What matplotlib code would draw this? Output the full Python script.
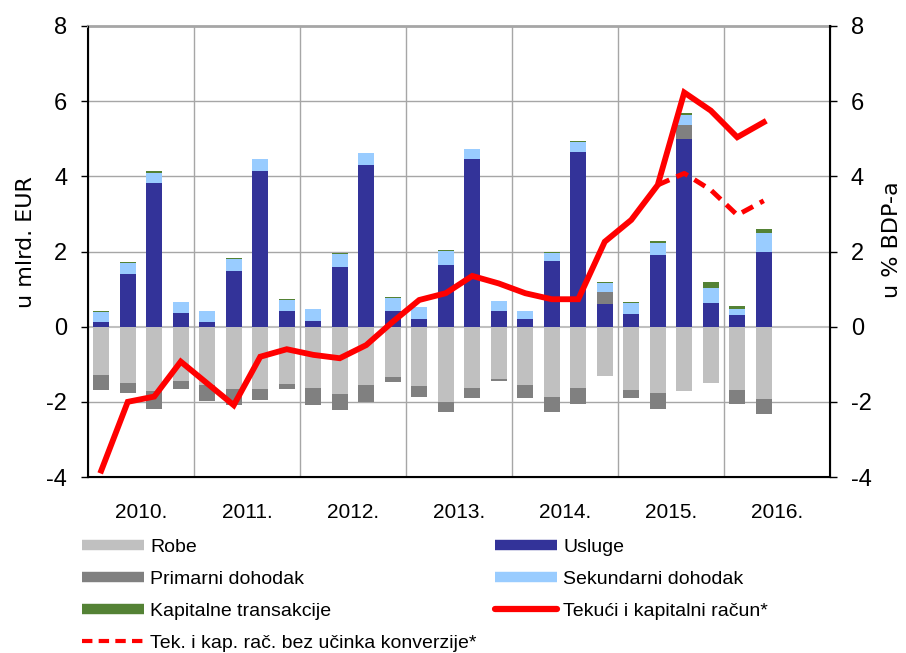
import numpy as np
import matplotlib
matplotlib.use('Agg')
import matplotlib.pyplot as plt
from matplotlib.lines import Line2D

plt.rcParams['font.family'] = ['Liberation Sans', 'DejaVu Sans']
plt.rcParams['axes.unicode_minus'] = False

# Kvartali 2010. Q1 - 2016. Q2
years = ['2010.', '2011.', '2012.', '2013.', '2014.', '2015.', '2016.']

robe = [-1.29, -1.49, -1.70, -1.44, -1.55, -1.65, -1.65, -1.52,
        -1.63, -1.78, -1.55, -1.35, -1.58, -2.01, -1.62, -1.38,
        -1.55, -1.88, -1.64, -1.30, -1.69, -1.77, -1.71, -1.51,
        -1.69, -1.93]
usluge = [0.12, 1.40, 3.82, 0.36, 0.12, 1.49, 4.13, 0.42,
          0.15, 1.59, 4.31, 0.42, 0.20, 1.64, 4.46, 0.43,
          0.20, 1.76, 4.65, 0.61, 0.33, 1.91, 5.00, 0.63,
          0.31, 2.00]
primarni = [-0.40, -0.27, -0.50, -0.23, -0.42, -0.44, -0.31, -0.15,
            -0.45, -0.45, -0.45, -0.11, -0.30, -0.27, -0.27, -0.07,
            -0.34, -0.40, -0.43, 0.30, -0.20, -0.41, 0.36, 0.00,
            -0.37, -0.40]
sekundarni = [0.27, 0.30, 0.28, 0.29, 0.30, 0.32, 0.32, 0.30,
              0.31, 0.34, 0.30, 0.33, 0.31, 0.38, 0.26, 0.24,
              0.22, 0.21, 0.27, 0.26, 0.29, 0.31, 0.28, 0.40,
              0.17, 0.48]
kapitalne = [0.02, 0.02, 0.03, 0.01, 0.01, 0.01, 0.02, 0.02,
             0.01, 0.02, 0.01, 0.04, 0.01, 0.03, 0.01, 0.02,
             0.01, 0.02, 0.01, 0.03, 0.04, 0.05, 0.04, 0.15,
             0.07, 0.12]
tekuci = [-3.83, -2.00, -1.86, -0.93, -1.51, -2.09, -0.80, -0.60,
          -0.75, -0.84, -0.49, 0.13, 0.71, 0.89, 1.35, 1.15,
          0.89, 0.73, 0.73, 2.26, 2.84, 3.77, 6.23, 5.75,
          5.04, 5.44]
bez_konverzije = [np.nan] * 21 + [3.77, 4.08, 3.64, 2.97, 3.35]

C_ROBE = '#c0c0c0'
C_USLUGE = '#333399'
C_PRIM = '#808080'
C_SEK = '#99ccff'
C_KAP = '#548235'
C_RED = '#ff0000'
GRID = '#a6a6a6'

n = len(robe)
x = np.arange(n) + 0.5
w = 0.62

fig = plt.figure(figsize=(9.06, 6.53), dpi=100)
ax = fig.add_axes([88 / 906, 1 - 477 / 653, 742 / 906, 451 / 653])

# mreza
for v in [2, 4, 6, -2]:
    ax.axhline(v, color=GRID, lw=1, zorder=0)
ax.axhline(0, color='#c0c0c0', lw=1.5, zorder=0)
for k in range(1, len(years)):
    ax.axvline(4 * k, color=GRID, lw=1, zorder=0)

# pozitivni i negativni stog
pos = np.zeros(n)
neg = np.zeros(n)
us = np.array(usluge)
ax.bar(x, us, w, bottom=0, color=C_USLUGE, zorder=2)
pos += us
rb = np.array(robe)
ax.bar(x, rb, w, bottom=0, color=C_ROBE, zorder=2)
neg += rb
pr = np.array(primarni)
pr_pos = np.where(pr > 0, pr, 0)
pr_neg = np.where(pr < 0, pr, 0)
ax.bar(x, pr_pos, w, bottom=pos, color=C_PRIM, zorder=2)
pos += pr_pos
ax.bar(x, pr_neg, w, bottom=neg, color=C_PRIM, zorder=2)
neg += pr_neg
sk = np.array(sekundarni)
ax.bar(x, sk, w, bottom=pos, color=C_SEK, zorder=2)
pos += sk
kp = np.array(kapitalne)
ax.bar(x, kp, w, bottom=pos, color=C_KAP, zorder=2)

ax.set_xlim(0, 4 * len(years))
ax.set_ylim(-4, 8)
ax.set_yticks(range(-4, 9, 2))
ax.set_xticks([4 * i + 2 for i in range(len(years))])
ax.set_xticklabels(years)
ax.tick_params(axis='x', length=0, pad=19, labelsize=15)
ax.tick_params(axis='y', direction='out', length=5, width=1, pad=10, labelsize=17)
for s in ['left', 'bottom']:
    ax.spines[s].set_linewidth(1.5)
ax.spines['top'].set_color(GRID)
ax.spines['top'].set_linewidth(2)

ax2 = ax.twinx()
ax2.set_ylim(-4, 8)
ax2.set_yticks(range(-4, 9, 2))
ax2.tick_params(axis='y', direction='out', length=5, width=1, pad=10, labelsize=17)
ax2.spines['right'].set_linewidth(1.5)
ax2.spines['top'].set_visible(False)
ax2.plot(x, tekuci, color=C_RED, lw=4.2, solid_joinstyle='miter', zorder=3)
ax2.plot(x, bez_konverzije, color=C_RED, lw=3.5, ls=(0, (2.6, 1.6)), zorder=3)

# nazivi osi
fig.text(26 / 906, 1 - 242 / 653, 'u mlrd. EUR', rotation=90, ha='center',
         va='center', family='DejaVu Sans', fontsize=16)
fig.text(892 / 906, 1 - 240 / 653, 'u % BDP-a', rotation=90, ha='center',
         va='center', family='DejaVu Sans', fontsize=16)

# legenda u dva stupca
def patch(c):
    return Line2D([], [], color=c, lw=7.5, solid_capstyle='butt')

col1 = [(patch(C_ROBE), 'Robe'),
        (patch(C_PRIM), 'Primarni dohodak'),
        (patch(C_KAP), 'Kapitalne transakcije'),
        (Line2D([], [], color=C_RED, lw=3, ls=(0, (2.5, 1.5))),
         'Tek. i kap. rač. bez učinka konverzije*')]
col2 = [(patch(C_USLUGE), 'Usluge'),
        (patch(C_SEK), 'Sekundarni dohodak'),
        (Line2D([], [], color=C_RED, lw=4.5, solid_capstyle='round'),
         'Tekući i kapitalni račun*')]
for items, x0 in [(col1, 82 / 906), (col2, 495 / 906)]:
    fig.legend([h for h, _ in items], [t for _, t in items],
               loc='upper left', bbox_to_anchor=(x0, 1 - 538 / 653),
               frameon=False, fontsize=14, borderpad=0, borderaxespad=0,
               handlelength=3.2, handletextpad=0.3, labelspacing=0.74)

fig.savefig('out.png', dpi=100)
